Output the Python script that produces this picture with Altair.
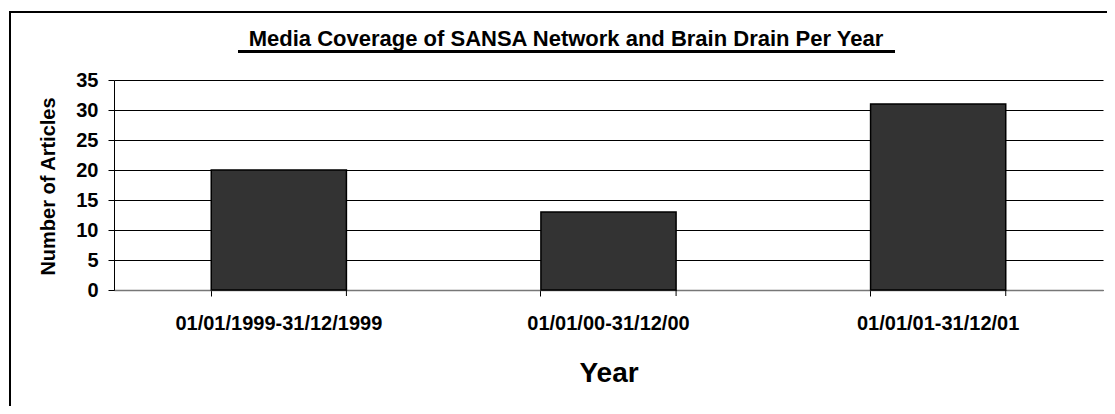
import altair as alt
import pandas as pd

periods = ["01/01/1999-31/12/1999", "01/01/00-31/12/00", "01/01/01-31/12/01"]
articles = [20, 13, 31]
y_ticks = [0, 5, 10, 15, 20, 25, 30, 35]
chart_title = "Media Coverage of SANSA Network and Brain Drain Per Year"

df = pd.DataFrame({"period": periods, "articles": articles})

FONT = "Liberation Sans"
W, H = 989, 210

xscale = alt.Scale(paddingInner=0.59, paddingOuter=0.295)

base = alt.Chart(df)

bars = base.mark_bar(color="#333333", stroke="#000000", strokeWidth=1.5).encode(
    x=alt.X(
        "period:N",
        sort=periods,
        scale=xscale,
        axis=alt.Axis(
            title="Year",
            titleFont=FONT,
            titleFontSize=28,
            titleFontWeight="bold",
            titleColor="#000000",
            titleX=W / 2,
            titleY=91,
            titleAlign="center",
            titleBaseline="alphabetic",
            labelFont=FONT,
            labelFontSize=20,
            labelFontWeight="bold",
            labelColor="#000000",
            labelAngle=0,
            labelLimit=0,
            labelBaseline="alphabetic",
            labelPadding=33,
            bandPosition=0,
            tickSize=6,
            tickColor="#000000",
            tickWidth=1,
            domainColor="#777777",
            domainWidth=1.5,
            grid=False,
        ),
    ),
    y=alt.Y(
        "articles:Q",
        scale=alt.Scale(domain=[0, 35], nice=False),
        axis=alt.Axis(
            values=y_ticks,
            title="Number of Articles",
            titleFont=FONT,
            titleFontSize=20,
            titleFontWeight="bold",
            titleColor="#000000",
            titleAngle=270,
            titleX=-66,
            titleY=106,
            titleAlign="center",
            titleBaseline="middle",
            labelFont=FONT,
            labelFontSize=20,
            labelFontWeight="bold",
            labelColor="#000000",
            labelPadding=10,
            tickSize=6,
            tickColor="#000000",
            tickWidth=1,
            domainColor="#000000",
            domainWidth=1,
            grid=True,
            gridColor="#000000",
            gridWidth=1,
        ),
    ),
)

end_ticks = base.mark_rule(color="#000000", strokeWidth=1).encode(
    x=alt.X("period:N", sort=periods, bandPosition=1),
    y=alt.value(H),
    y2=alt.value(H + 6),
)

one = alt.Chart(pd.DataFrame({"title": [chart_title]}))

frame = one.mark_rect(fill="transparent", stroke="#000000", strokeWidth=2).encode(
    x=alt.value(-104), x2=alt.value(W + 60), y=alt.value(-68), y2=alt.value(H + 200)
)

title_text = one.mark_text(
    font=FONT,
    fontSize=22,
    fontWeight="bold",
    color="#000000",
    align="center",
    baseline="alphabetic",
).encode(text="title:N", x=alt.value(452), y=alt.value(-34))

underline = one.mark_rule(color="#000000", strokeWidth=3).encode(
    x=alt.value(124), x2=alt.value(781), y=alt.value(-28.5)
)

chart = (
    alt.layer(frame, bars, end_ticks, title_text, underline)
    .properties(
        width=W,
        height=H,
        autosize=alt.AutoSizeParams(type="none"),
        padding={"left": 106, "top": 72, "right": 4, "bottom": 116},
        background="#ffffff",
    )
    .configure_view(strokeWidth=0)
)

chart.save("out.html", embed_options={"renderer": "svg", "actions": False})
